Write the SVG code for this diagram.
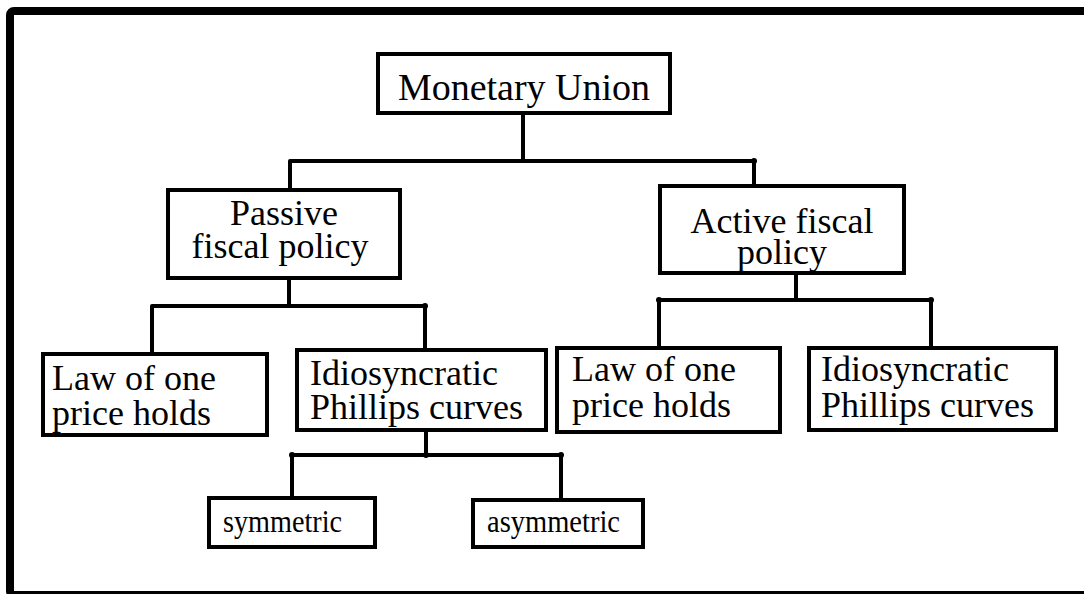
<svg xmlns="http://www.w3.org/2000/svg" width="1084" height="594" viewBox="0 0 1084 594">
<style>
.box{fill:#fff;stroke:#000;stroke-width:4}
.t{font-family:"Liberation Serif","Times New Roman",serif;font-size:36px;fill:#000}
.s{font-family:"Liberation Serif","Times New Roman",serif;font-size:32px;fill:#000}
.c{fill:none;stroke:#000;stroke-width:4;stroke-linecap:round;stroke-linejoin:miter}
.d{fill:#000}
</style>
<rect width="1084" height="594" fill="#fff"/>
<rect x="10" y="11" width="1100" height="584" rx="4" fill="none" stroke="#000" stroke-width="8"/>
<g id="connectors">
<path class="c" d="M523 115V161M290 161H754M290 161V188M754 161V184"/>
<path class="c" d="M289 280V306M152 306H425M152 306V352M425 306V348"/>
<path class="c" d="M796 275V300M659 300H931M659 300V346M931 300V346"/>
<path class="c" d="M426 432V455M292 455H561M292 455V496M561 455V498"/>
<circle class="d" cx="754" cy="161" r="3"/>
<circle class="d" cx="425" cy="306" r="3"/>
<circle class="d" cx="659" cy="300" r="3"/>
<circle class="d" cx="931" cy="300" r="3"/>
<circle class="d" cx="292" cy="455" r="3"/>
<circle class="d" cx="426" cy="455" r="3"/>
<circle class="d" cx="561" cy="455" r="3"/>
</g>
<g id="monetary-union">
<rect class="box" x="378" y="54" width="292" height="59"/>
<text class="t" x="524" y="100" text-anchor="middle" style="font-size:38px">Monetary Union</text>
</g>
<g id="passive">
<rect class="box" x="168" y="190" width="232" height="88"/>
<text class="t" x="284" y="225" text-anchor="middle">Passive</text>
<text class="t" x="280" y="258" text-anchor="middle">fiscal policy</text>
</g>
<g id="active">
<rect class="box" x="660" y="186" width="244" height="87"/>
<text class="t" x="782" y="233" text-anchor="middle">Active fiscal</text>
<text class="t" x="782" y="264" text-anchor="middle">policy</text>
</g>
<g id="law1">
<rect class="box" x="43" y="354" width="224" height="81"/>
<text class="t" x="52" y="390">Law of one</text>
<text class="t" x="52" y="425">price holds</text>
</g>
<g id="idio1">
<rect class="box" x="297" y="350" width="249" height="80"/>
<text class="t" x="310" y="385">Idiosyncratic</text>
<text class="t" x="310" y="419">Phillips curves</text>
</g>
<g id="law2">
<rect class="box" x="557" y="348" width="223" height="84"/>
<text class="t" x="572" y="381">Law of one</text>
<text class="t" x="572" y="417">price holds</text>
</g>
<g id="idio2">
<rect class="box" x="809" y="348" width="247" height="82"/>
<text class="t" x="821" y="381">Idiosyncratic</text>
<text class="t" x="821" y="417">Phillips curves</text>
</g>
<g id="symmetric">
<rect class="box" x="209" y="498" width="166" height="49"/>
<text class="s" x="223" y="532" textLength="119" lengthAdjust="spacingAndGlyphs">symmetric</text>
</g>
<g id="asymmetric">
<rect class="box" x="473" y="500" width="170" height="47"/>
<text class="s" x="487" y="532" textLength="133" lengthAdjust="spacingAndGlyphs">asymmetric</text>
</g>
</svg>
